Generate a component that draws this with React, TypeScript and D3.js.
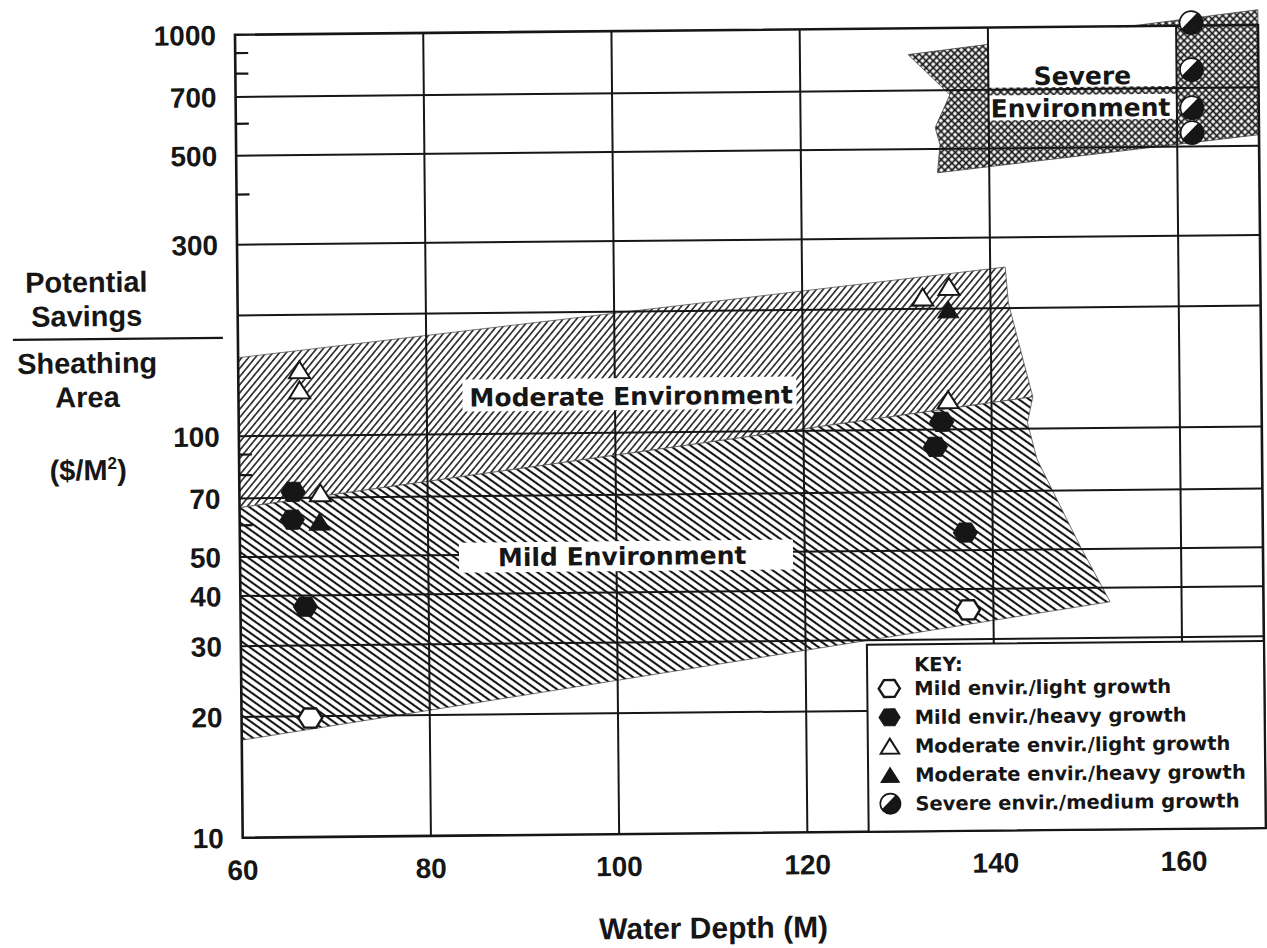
import React from 'react';
import * as d3 from 'd3';

const W = 1267;
const H = 948;

// Axis extents and ticks
const X_MIN = 60;
const X_MAX = 168.7;
const Y_MIN = 10;
const Y_MAX = 1000;
const xTickValues = [60, 80, 100, 120, 140, 160];
const xGridValues = [80, 100, 120, 140, 160];
const yTickValues = [10, 20, 30, 40, 50, 70, 100, 300, 500, 700, 1000];
const yGridValues = [20, 30, 40, 50, 70, 100, 200, 300, 500, 700];
const yMinorTicks = [60, 80, 90, 400, 600, 800, 900];

type Pt = [number, number]; // [water depth (m), savings per area ($/m²)]

// Observations by environment / growth
const mildLight: Pt[] = [[67.3, 19.8], [137.3, 35.5]];
const mildHeavy: Pt[] = [[65.7, 72.5], [65.6, 61.8], [66.9, 37.5], [134.7, 104.5], [134.0, 90.6], [137.1, 55.3]];
const moderateLight: Pt[] = [[66.5, 146], [66.5, 130], [68.6, 72], [132.8, 214], [135.6, 227], [135.4, 118.6]];
const moderateHeavy: Pt[] = [[68.5, 61], [135.5, 199]];
const severeMedium: Pt[] = [[161.6, 1017], [161.6, 777], [161.6, 624], [161.6, 541]];

// Envelope regions
const mildBand: Pt[] = [[60, 17.5], [60, 66.4], [144.4, 120], [143.8, 103.5], [144.8, 83.7], [149.3, 50.7], [152.4, 36.9]];
const moderateBand: Pt[] = [[60, 156.9], [141.6, 253], [141.9, 206], [143.4, 148.6], [144.4, 120], [60, 66.4]];
const severeBand: Pt[] = [[131.5, 860], [168.7, 1091], [168.7, 533], [134.5, 436], [134.8, 512], [134.3, 565], [135.9, 682]];

const legendLabels = [
  'Mild envir./light growth',
  'Mild envir./heavy growth',
  'Moderate envir./light growth',
  'Moderate envir./heavy growth',
  'Severe envir./medium growth',
];
const legendKinds = ['hexOpen', 'hexFill', 'triOpen', 'triFill', 'split'];

const AXIS_FONT = "'Liberation Sans', Arial, Helvetica, sans-serif";
const LABEL_FONT = "'DejaVu Sans', Verdana, sans-serif";
const INK = '#161616';

const x = d3.scaleLinear().domain([X_MIN, X_MAX]).range([239, 1262]);
const y = d3.scaleLog().domain([Y_MIN, Y_MAX]).range([834, 31]);

const area = d3
  .line<Pt>()
  .x((d) => x(d[0]))
  .y((d) => y(d[1]))
  .curve(d3.curveLinearClosed);

function hexPath(cx: number, cy: number, r: number) {
  const pts = d3.range(6).map((i) => {
    const a = (Math.PI / 3) * i;
    return [cx + r * Math.cos(a), cy + r * Math.sin(a) * 0.92];
  });
  return 'M' + pts.map((p) => p.join(',')).join('L') + 'Z';
}

function triPath(cx: number, cy: number, w: number, h: number) {
  return `M${cx},${cy - h / 2}L${cx + w / 2},${cy + h / 2}L${cx - w / 2},${cy + h / 2}Z`;
}

function Marker({ kind, cx, cy, s }: { kind: string; cx: number; cy: number; s: number }) {
  if (kind === 'hexOpen')
    return <path d={hexPath(cx, cy, 12 * s)} fill="#fff" stroke={INK} strokeWidth={2.4} />;
  if (kind === 'hexFill')
    return <path d={hexPath(cx, cy, 12 * s)} fill={INK} stroke={INK} strokeWidth={1} />;
  if (kind === 'triOpen')
    return <path d={triPath(cx, cy, 21 * s, 17 * s)} fill="#fff" stroke={INK} strokeWidth={2} strokeLinejoin="miter" />;
  if (kind === 'triFill')
    return <path d={triPath(cx, cy, 21 * s, 17 * s)} fill={INK} stroke={INK} strokeWidth={1} />;
  // half-shaded circle: white cap on the upper left, black elsewhere
  const r = 11.5 * s;
  const d = 0.22 * r;
  const k = Math.SQRT1_2;
  const ox = cx - d * k;
  const oy = cy - d * k;
  const sLen = Math.sqrt(r * r - d * d);
  const p1 = [ox + sLen * k, oy - sLen * k];
  const p2 = [ox - sLen * k, oy + sLen * k];
  return (
    <g>
      <circle cx={cx} cy={cy} r={r} fill={INK} />
      <path d={`M${p1[0]},${p1[1]}A${r},${r} 0 0 0 ${p2[0]},${p2[1]}Z`} fill="#fff" />
      <circle cx={cx} cy={cy} r={r} fill="none" stroke={INK} strokeWidth={1.6} />
    </g>
  );
}

export default function App() {
  const series: { data: Pt[]; kind: string }[] = [
    { data: mildLight, kind: 'hexOpen' },
    { data: mildHeavy, kind: 'hexFill' },
    { data: moderateLight, kind: 'triOpen' },
    { data: moderateHeavy, kind: 'triFill' },
    { data: severeMedium, kind: 'split' },
  ];
  const x0 = x(X_MIN);
  const x1 = x(X_MAX);
  const yTop = y(Y_MAX);
  const yBot = y(Y_MIN);

  return (
    <svg
      width={W}
      height={H}
      viewBox={`0 0 ${W} ${H}`}
      style={{ position: 'absolute', left: 0, top: 0, background: '#fff' }}
    >
      <defs>
        <pattern id="mildHatch" patternUnits="userSpaceOnUse" width={10} height={6} patternTransform="rotate(36)">
          <rect width={10} height={6} fill="#fff" />
          <line x1={0} y1={3} x2={10} y2={3} stroke={INK} strokeWidth={2.1} />
        </pattern>
        <pattern id="moderateHatch" patternUnits="userSpaceOnUse" width={10} height={5.2} patternTransform="rotate(-50)">
          <rect width={10} height={5.2} fill="#fff" />
          <line x1={0} y1={2.6} x2={10} y2={2.6} stroke={INK} strokeWidth={1.5} />
        </pattern>
        <pattern id="severeHatch" patternUnits="userSpaceOnUse" width={5} height={5} patternTransform="rotate(45)">
          <rect width={5} height={5} fill="#fff" />
          <line x1={0} y1={2.5} x2={5} y2={2.5} stroke={INK} strokeWidth={1.7} />
          <line x1={2.5} y1={0} x2={2.5} y2={5} stroke={INK} strokeWidth={1.7} />
        </pattern>
      </defs>

      <g transform="rotate(-0.55 630 450)">
        {/* environment envelopes */}
        <path d={area(moderateBand) ?? ''} fill="url(#moderateHatch)" stroke="#555" strokeWidth={0.8} />
        <path d={area(mildBand) ?? ''} fill="url(#mildHatch)" stroke="#555" strokeWidth={0.8} />
        <path d={area(severeBand) ?? ''} fill="url(#severeHatch)" stroke="#444" strokeWidth={0.8} />

        {/* label gaps in the severe envelope */}
        <rect x={x(140)} y={yTop + 1} width={x(160) - x(140)} height={y(700) - yTop - 3} fill="#fff" />
        <rect x={x(140)} y={99} width={x(160) - x(140)} height={25} fill="#fff" />

        {/* grid */}
        {yGridValues.map((v) => (
          <line key={`gy${v}`} x1={x0} x2={x1} y1={y(v)} y2={y(v)} stroke={INK} strokeWidth={2} />
        ))}
        {xGridValues.map((v) => (
          <line key={`gx${v}`} x1={x(v)} x2={x(v)} y1={yTop} y2={yBot} stroke={INK} strokeWidth={2} />
        ))}
        {yMinorTicks.map((v) => (
          <line key={`mt${v}`} x1={x0} x2={x0 + 13} y1={y(v)} y2={y(v)} stroke={INK} strokeWidth={2.2} />
        ))}
        <rect x={x0} y={yTop} width={x1 - x0} height={yBot - yTop} fill="none" stroke={INK} strokeWidth={2.6} />

        {/* envelope labels */}
        <rect x={463} y={378} width={334} height={32} fill="#fff" />
        <text x={470} y={405} fontFamily={LABEL_FONT} fontWeight="bold" fontSize={25} fill={INK}>
          Moderate Environment
        </text>
        <rect x={458} y={541} width={334} height={30} fill="#fff" />
        <text x={497} y={565} fontFamily={LABEL_FONT} fontWeight="bold" fontSize={25} fill={INK}>
          Mild Environment
        </text>
        <text x={(x(140) + x(160)) / 2} y={89} textAnchor="middle" fontFamily={LABEL_FONT} fontWeight="bold" fontSize={25} fill={INK}>
          Severe
        </text>
        <text x={x(140) + 2} y={121} fontFamily={LABEL_FONT} fontWeight="bold" fontSize={25} fill={INK}>
          Environment
        </text>

        {/* observations */}
        {series.map((s) =>
          s.data.map((d, i) => <Marker key={`${s.kind}${i}`} kind={s.kind} cx={x(d[0])} cy={y(d[1])} s={1} />)
        )}

        {/* key */}
        <g>
          <rect x={865} y={647} width={x1 - 865} height={yBot - 647} fill="#fff" stroke={INK} strokeWidth={2} />
          <text x={912} y={674} fontFamily={LABEL_FONT} fontWeight="bold" fontSize={19.5} fill={INK}>
            KEY:
          </text>
          {legendLabels.map((label, i) => {
            const by = 698 + i * 28.8;
            return (
              <g key={label}>
                <Marker kind={legendKinds[i]} cx={887} cy={by - 7} s={0.88} />
                <text x={912} y={by} fontFamily={LABEL_FONT} fontWeight="bold" fontSize={19.5} fill={INK}>
                  {label}
                </text>
              </g>
            );
          })}
        </g>

        {/* axes labels */}
        {yTickValues.map((v) => (
          <text
            key={`yt${v}`}
            x={220}
            y={y(v)}
            dy="0.36em"
            textAnchor="end"
            fontFamily={AXIS_FONT}
            fontWeight="bold"
            fontSize={28}
            fill={INK}
          >
            {v}
          </text>
        ))}
        {xTickValues.map((v) => (
          <text
            key={`xt${v}`}
            x={x(v)}
            y={876}
            textAnchor="middle"
            fontFamily={AXIS_FONT}
            fontWeight="bold"
            fontSize={28}
            fill={INK}
          >
            {v}
          </text>
        ))}
        <text x={709} y={939} textAnchor="middle" fontFamily={AXIS_FONT} fontWeight="bold" fontSize={30} fill={INK}>
          Water Depth (M)
        </text>

        <g fontFamily={AXIS_FONT} fontWeight="bold" fontSize={29} fill={INK} textAnchor="middle">
          <text x={88} y={287}>Potential</text>
          <text x={88} y={321}>Savings</text>
          <line x1={14} x2={224} y1={334} y2={334} stroke={INK} strokeWidth={2.2} />
          <text x={88} y={368}>Sheathing</text>
          <text x={88} y={402}>Area</text>
          <text x={88} y={475}>
            ($/M<tspan fontSize={17} dy={-11}>2</tspan>
            <tspan dy={11}>)</tspan>
          </text>
        </g>
      </g>
    </svg>
  );
}
